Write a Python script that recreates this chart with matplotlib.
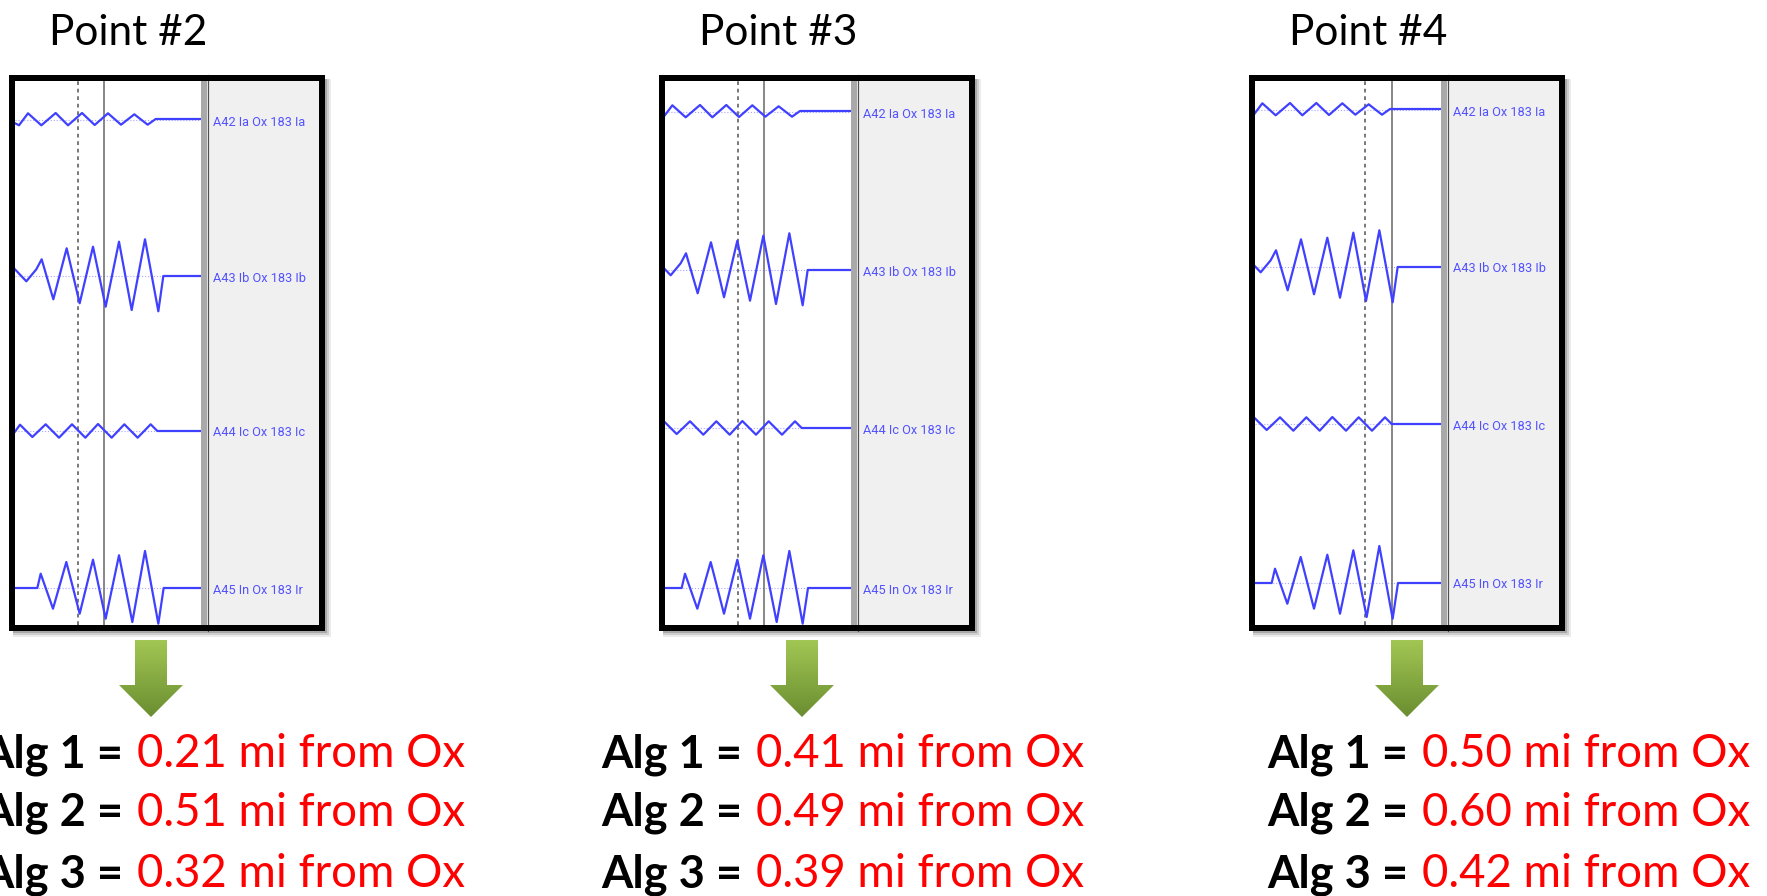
import numpy as np
import matplotlib
import matplotlib.pyplot as plt
from matplotlib.patches import Rectangle, Polygon
from matplotlib.colors import LinearSegmentedColormap

# Panel titles and channel labels
panel_titles = ['Point #2', 'Point #3', 'Point #4']
channel_labels = ['A42 Ia Ox 183 Ia', 'A43 Ib Ox 183 Ib', 'A44 Ic Ox 183 Ic', 'A45 In Ox 183 Ir']

# Waveform vertices (sample index, amplitude)
ia_t = [25, 40, 67, 107, 150, 187, 229, 267, 307, 346, 386, 426, 450, 640]
ia_v = [-2.7, -5.3, 6.7, -5.3, 7.0, -5.3, 7.0, -5.0, 6.7, -4.7, 5.7, -4.7, 1.0, 1.0]
ib_t = [25, 62, 92, 108, 143, 183, 222, 262, 300, 340, 378, 418, 458, 473, 640]
ib_v = [7.7, -5.3, 6.7, 16.7, -23.3, 27.7, -27.3, 29.3, -30.7, 34.3, -34.0, 36.7, -35.3, 0, 0]
ic_t = [25, 43, 80, 120, 160, 199, 239, 277, 318, 356, 396, 435, 455, 640]
ic_v = [-2.0, 6.3, -6.0, 6.7, -6.7, 6.7, -6.7, 7.0, -6.7, 6.7, -6.7, 6.7, 0, 0]
in_t = [25, 95, 105, 142, 182, 222, 262, 300, 340, 380, 418, 458, 474, 640]
in_v = [0, 0, 14.3, -20.7, 26.0, -25.7, 28.3, -30.7, 32.7, -34.0, 37.0, -35.7, 0, 0]
traces = [(ia_t, ia_v), (ib_t, ib_v), (ic_t, ic_v), (in_t, in_v)]

# Visible window start and cursor positions per panel (samples)
window_start = [28, 45, 45]
dashed_cursor = [216, 263, 375]
solid_cursor = [295, 343, 455]

# Fault location results (miles from Ox)
alg1 = [0.21, 0.41, 0.50]
alg2 = [0.51, 0.49, 0.60]
alg3 = [0.32, 0.39, 0.42]

# ---- layout (pixels) ----
W, H = 1767, 896
box_left = [9, 659, 1249]
box_top, box_bot, box_w = 75, 631, 316
baselines = [[120, 276, 431, 588], [112, 270, 428, 588], [110, 267, 424, 583]]
title_x = [128, 778, 1368]
arrow_x = [151, 802, 1407]
red_x = [137, 756, 1422]
line_y = [767, 826, 887]
window_len = 558

px = 0.72  # points per pixel at dpi 100

fig = plt.figure(figsize=(W / 100, H / 100), dpi=100)
bg = fig.add_axes([0, 0, 1, 1])
bg.axis('off')

green = LinearSegmentedColormap.from_list('g', ['#a2c653', '#6a8e30'])
grad = np.linspace(0, 1, 100).reshape(-1, 1)

for i in range(3):
    bx = box_left[i]

    # soft shadow
    for k, a in zip([6, 4, 2], [0.08, 0.12, 0.18]):
        bg.add_patch(Rectangle((bx + 4, box_top + 4), box_w + k - 4, box_bot - box_top + k - 4,
                               facecolor='#000000', alpha=a, edgecolor='none', zorder=1))
    # white plot area and gray label area
    bg.add_patch(Rectangle((bx, box_top), box_w, box_bot - box_top, facecolor='white',
                           edgecolor='none', zorder=2))
    bg.add_patch(Rectangle((bx + 198, box_top), 112, box_bot - box_top, facecolor='#f0f0f0',
                           edgecolor='none', zorder=2))
    bg.add_patch(Rectangle((bx + 192, box_top), 6, box_bot - box_top, facecolor='#a9a9a9',
                           edgecolor='none', zorder=3))
    bg.plot([bx + 198.5, bx + 198.5], [box_top, box_bot], color='#505050', lw=1.2 * px, zorder=3)
    bg.add_patch(Rectangle((bx + 3, box_top + 3), box_w - 6, box_bot - box_top - 6, facecolor='none',
                           edgecolor='black', lw=6 * px, zorder=6))

    # channel labels
    for lab, yb in zip(channel_labels, baselines[i]):
        bg.text(bx + 204, yb + 2, lab, fontsize=9.2, family='Roboto', color='#5252ff',
                va='center', ha='left', zorder=4)

    # title
    bg.text(title_x[i], 45, panel_titles[i], fontsize=30.5, family='Lato', color='black',
            ha='center', va='baseline')

    # green arrow
    cx = arrow_x[i]
    verts = [(cx - 16, 640), (cx + 16, 640), (cx + 16, 685), (cx + 32, 685), (cx, 717),
             (cx - 32, 685), (cx - 16, 685)]
    arrow = Polygon(verts, closed=True, facecolor='none', edgecolor='none')
    bg.add_patch(arrow)
    im = bg.imshow(grad, cmap=green, extent=(cx - 32, cx + 32, 717, 640), origin='upper',
                   aspect='auto', zorder=3)
    im.set_clip_path(arrow)

    # result lines
    for j, (vals, y) in enumerate(zip([alg1, alg2, alg3], line_y)):
        bg.text(red_x[i] - 14, y, f'Alg {j + 1} =', fontsize=32.5, family='Lato', weight='bold',
                color='black', ha='right', va='baseline')
        bg.text(red_x[i], y, f'{vals[i]:.2f} mi from Ox', fontsize=32.8, family='Lato',
                color='#ff0000', ha='left', va='baseline')

    # waveform axes
    ax = fig.add_axes([(bx + 6) / W, 1 - 625 / H, 186 / W, 544 / H])
    ax.set_xlim(window_start[i], window_start[i] + window_len)
    ax.set_ylim(625, 81)
    ax.axis('off')
    for (t, v), yb in zip(traces, baselines[i]):
        ax.axhline(yb, color='#a8a8ff', ls=':', lw=0.8, zorder=1)
        ax.plot(t, [yb - a for a in v], color='#4040ff', lw=1.6, zorder=3,
                solid_joinstyle='round', solid_capstyle='round')
    ax.axvline(dashed_cursor[i], color='#505050', lw=1.5 * px, ls=(0, (2.5, 2.5)), zorder=2)
    ax.axvline(solid_cursor[i], color='#6e6e6e', lw=1.6 * px, zorder=2)

bg.set_xlim(0, W)
bg.set_ylim(H, 0)

fig.savefig('out.png', dpi=100, facecolor='white')
